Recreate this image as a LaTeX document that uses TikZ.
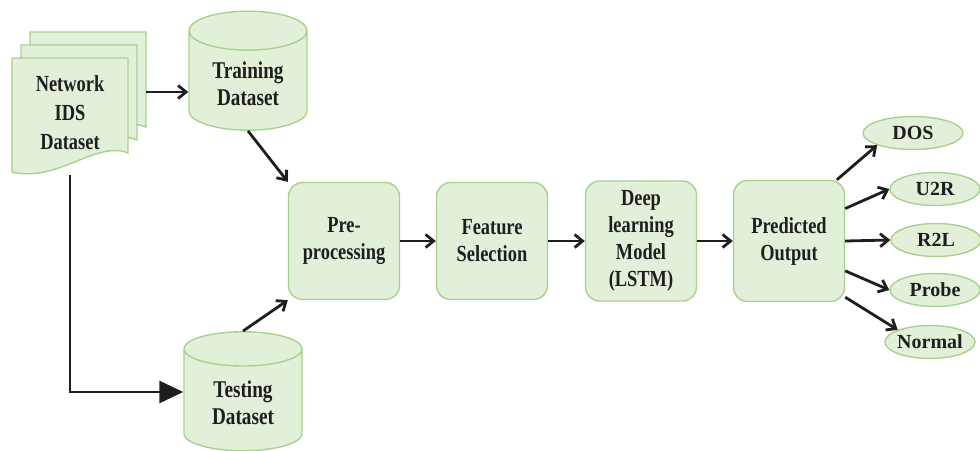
\documentclass[tikz,border=0pt]{standalone}
\usepackage{fontspec}
\setmainfont{Liberation Serif}
\newfontfamily\narrowserif[FakeStretch=0.8]{Liberation Serif}
\usetikzlibrary{shapes.geometric, positioning, arrows.meta}
\definecolor{boxfill}{HTML}{E2F0D9}
\definecolor{boxline}{HTML}{A9D18E}
\definecolor{inkdark}{HTML}{1E1E1E}
\tikzset{
  block/.style={rectangle, rounded corners=14pt, draw=boxline, fill=boxfill, line width=1.4pt,
    minimum width=111pt, minimum height=117pt, align=center, text=inkdark,
    font=\narrowserif\bfseries\fontsize{23}{27}\selectfont},
  store/.style={cylinder, shape border rotate=90, aspect=0.5, draw=boxline, fill=boxfill, line width=1.4pt,
    minimum width=118pt, minimum height=119pt, align=center, text=inkdark,
    font=\narrowserif\bfseries\fontsize{24}{27}\selectfont},
  cls/.style={ellipse, draw=boxline, fill=boxfill, line width=1.4pt, inner xsep=-3pt, inner ysep=0pt,
    minimum width=90pt, minimum height=33pt, text=inkdark,
    font=\bfseries\fontsize{20}{22}\selectfont},
  page/.style={draw=boxline, fill=boxfill, line width=1.4pt},
  flow/.style={-{Straight Barb[length=8pt,width=13pt]}, line width=2.8pt, draw=inkdark},
}
\newcommand\docpage[2]{% top-left corner (x,y) of one sheet
  \begin{scope}[shift={(#1,#2)}]
    \filldraw[page] (0,0) -- (116,0) -- (116,95)
      .. controls (85,82) and (45,125) .. (0,114) -- cycle;
  \end{scope}
}

\begin{document}
\begin{tikzpicture}[x=1pt, y=-1pt]
  \useasboundingbox (0,0) rectangle (980,450);
  % stack of sheets
  \docpage{30}{32}
  \docpage{21}{45}
  \docpage{12}{58}
  \node[minimum width=134pt, minimum height=143pt, inner sep=0pt] (net) at (79,103.5) {};
  \node[align=center, text=inkdark, font=\narrowserif\bfseries\fontsize{23}{29}\selectfont] (netlabel) at (70,113) {Network\\IDS\\Dataset};
  % data stores
  \node[store] (train) at (248,84) {Training\\Dataset};
  \node[store] (test) at (243,403) {Testing\\Dataset};
  % pipeline
  \node[block] (pre) at (344,241) {Pre-\\processing};
  \node[block] (feat) at (492,241) {Feature\\Selection};
  \node[block, minimum height=120pt] (dlm) at (641,241) {Deep\\learning\\Model\\(LSTM)};
  \node[block, minimum height=121pt] (pred) at (789,241) {Predicted\\Output};
  % classes
  \node[cls, minimum width=100pt] (dos) at (913,133) {DOS};
  \node[cls] (u2r) at (935,189) {U2R};
  \node[cls] (r2l) at (936,240) {R2L};
  \node[cls] (probe) at (935,290) {Probe};
  \node[cls] (normal) at (930,342) {Normal};
  % connectors
  \coordinate (tr) at ([yshift=-8pt]train.west);
  \coordinate (te) at ([yshift=11pt]test.west);
  \draw[flow] (net.east |- tr) -- (tr);
  \draw[line width=2.8pt, draw=inkdark, -{Triangle[length=24pt,width=22pt]}]
    (netlabel.center |- net.south) |- (te);
  \draw[flow] (train.south) -- (pre.north west);
  \draw[flow] (test.north) -- (pre.south west);
  \draw[flow] (pre) -- (feat);
  \draw[flow] (feat) -- (dlm);
  \draw[flow] (dlm) -- (pred);
  \draw[flow] (pred.52) -- (dos.south west);
  \draw[flow] (pred.30) -- (u2r.west);
  \draw[flow] (pred.east) -- (r2l.west);
  \draw[flow] (pred.-28) -- (probe.west);
  \draw[flow] (pred.-45) -- (normal.north west);
\end{tikzpicture}
\end{document}
